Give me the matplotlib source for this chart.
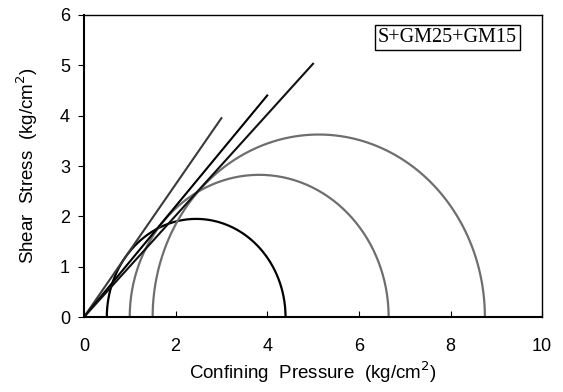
import numpy as np
import matplotlib.pyplot as plt

# Mohr circles: minor / major principal stress (kg/cm2)
sigma3 = [0.5, 1.0, 1.5]
sigma1 = [4.4, 6.65, 8.75]
circle_colors = ['#000000', '#6e6e6e', '#6e6e6e']

# failure envelopes drawn from origin to end point
env_x_end = [3.0, 4.0, 5.0]
env_y_end = [3.95, 4.4, 5.03]
env_colors = ['#3a3a3a', '#000000', '#111111']

label = 'S+GM25+GM15'

plt.rcParams['font.family'] = ['Liberation Sans', 'DejaVu Sans']

fig = plt.figure(figsize=(5.63, 3.92), dpi=100)
ax = fig.add_axes([0.149, 0.191, 0.814, 0.771])

theta = np.linspace(0, np.pi, 200)
for s3, s1, c in zip(sigma3, sigma1, circle_colors):
    cen = (s1 + s3) / 2
    r = (s1 - s3) / 2
    ax.plot(cen - r * np.cos(theta), r * np.sin(theta), color=c, lw=1.6)

for xe, ye, c in zip(env_x_end, env_y_end, env_colors):
    ax.plot([0, xe], [0, ye], color=c, lw=1.5)

ax.set_xlim(0, 10)
ax.set_ylim(0, 6)
ax.set_xticks(range(0, 11, 2))
ax.set_yticks(range(0, 7))
ax.tick_params(axis='x', direction='in', length=4, labelsize=13, pad=15)
ax.tick_params(axis='y', direction='out', length=4, labelsize=13, pad=6)
for s in ['left', 'bottom']:
    ax.spines[s].set_linewidth(1.5)
for s in ['top', 'right']:
    ax.spines[s].set_linewidth(1.0)

ax.set_xlabel('Confining  Pressure  (kg/cm$^2$)', fontsize=13.5, labelpad=3)
ax.set_ylabel('Shear  Stress  (kg/cm$^2$)', fontsize=13.5, labelpad=14)

ax.text(0.793, 0.924, label, transform=ax.transAxes, ha='center', va='center',
        fontsize=14.5, family='Liberation Serif',
        bbox=dict(boxstyle='square,pad=0.15', fc='white', ec='black', lw=1.0))

fig.savefig('out.png', dpi=100)
